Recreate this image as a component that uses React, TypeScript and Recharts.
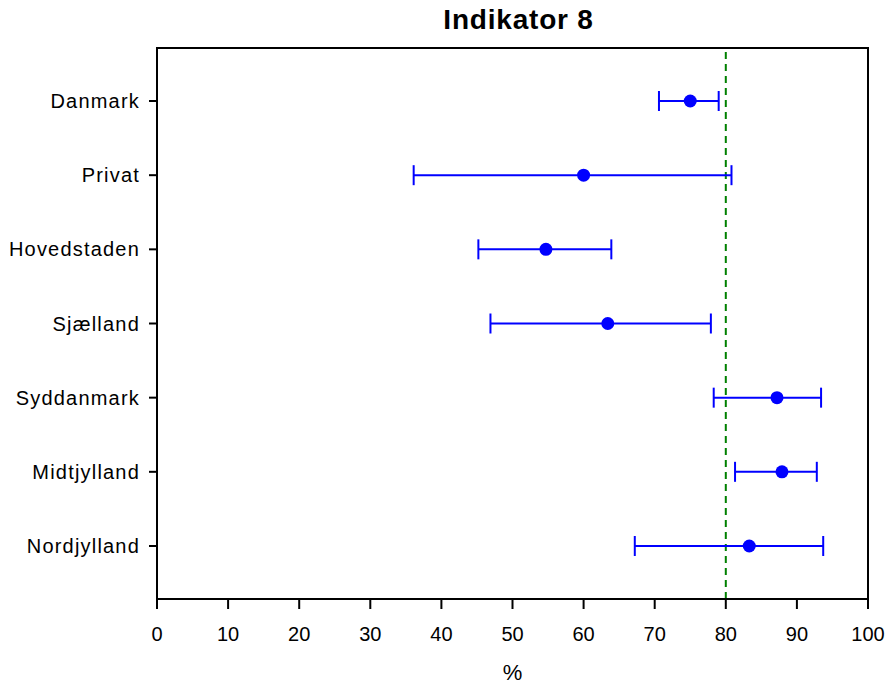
import { ScatterChart, Scatter, XAxis, YAxis, ErrorBar, ReferenceLine, ReferenceArea } from 'recharts';

const categories = ['Danmark', 'Privat', 'Hovedstaden', 'Sjælland', 'Syddanmark', 'Midtjylland', 'Nordjylland'];
const estimates = [75.0, 60.0, 54.7, 63.4, 87.2, 87.9, 83.3];
const lower = [70.6, 36.1, 45.2, 46.9, 78.3, 81.3, 67.2];
const upper = [79.0, 80.8, 63.9, 77.9, 93.4, 92.8, 93.7];
const xTicks = [0, 10, 20, 30, 40, 50, 60, 70, 80, 90, 100];
const target = 80;

const rows = categories.map((name, i) => ({
  name,
  pos: i + 1,
  value: estimates[i],
  err: [estimates[i] - lower[i], upper[i] - estimates[i]],
}));

const font = '"Liberation Sans", Arial, sans-serif';

// bigger filled dot than recharts' default symbol
const Dot = (props: any) => <circle cx={props.cx} cy={props.cy} r={6.5} fill="#0000ff" />;

export default function App() {
  return (
    <div style={{ position: 'relative', width: 890, height: 686, fontFamily: font, background: '#fff' }}>
      <style>{'body{margin:0}'}</style>
      <div
        style={{
          position: 'absolute',
          left: 157,
          width: 711,
          top: 4,
          textAlign: 'center',
          fontWeight: 'bold',
          fontSize: 28,
          letterSpacing: 0.8,
          paddingLeft: 12,
          boxSizing: 'border-box',
        }}
      >
        Indikator 8
      </div>
      <ScatterChart width={890} height={686} margin={{ top: 48, right: 22, bottom: 0, left: 0 }}>
        <XAxis
          type="number"
          dataKey="value"
          domain={[0, 100]}
          ticks={xTicks}
          height={87}
          tickSize={10}
          tickMargin={18}
          stroke="#000"
          strokeWidth={2}
          tick={{ fill: '#000', fontSize: 20, fontFamily: font }}
          label={{ value: '%', position: 'insideBottom', offset: 6, fill: '#000', fontSize: 22, fontFamily: font }}
        />
        <YAxis
          type="number"
          dataKey="pos"
          domain={[0.285, 7.715]}
          ticks={[1, 2, 3, 4, 5, 6, 7]}
          reversed
          width={157}
          tickSize={8}
          tickMargin={9}
          stroke="#000"
          strokeWidth={2}
          tickFormatter={(v: number) => categories[v - 1] ?? ''}
          tick={{ fill: '#000', fontSize: 20, fontFamily: font, letterSpacing: 1.2 }}
        />
        <ReferenceArea x1={0} x2={100} y1={0.285} y2={7.715} fill="none" stroke="#000" strokeWidth={2} ifOverflow="visible" />
        <ReferenceLine x={target} stroke="#008000" strokeWidth={2} strokeDasharray="7 5" />
        <Scatter data={rows} fill="#0000ff" shape={Dot} isAnimationActive={false}>
          <ErrorBar dataKey="err" direction="x" width={10} stroke="#0000ff" strokeWidth={2} isAnimationActive={false} />
        </Scatter>
      </ScatterChart>
    </div>
  );
}
